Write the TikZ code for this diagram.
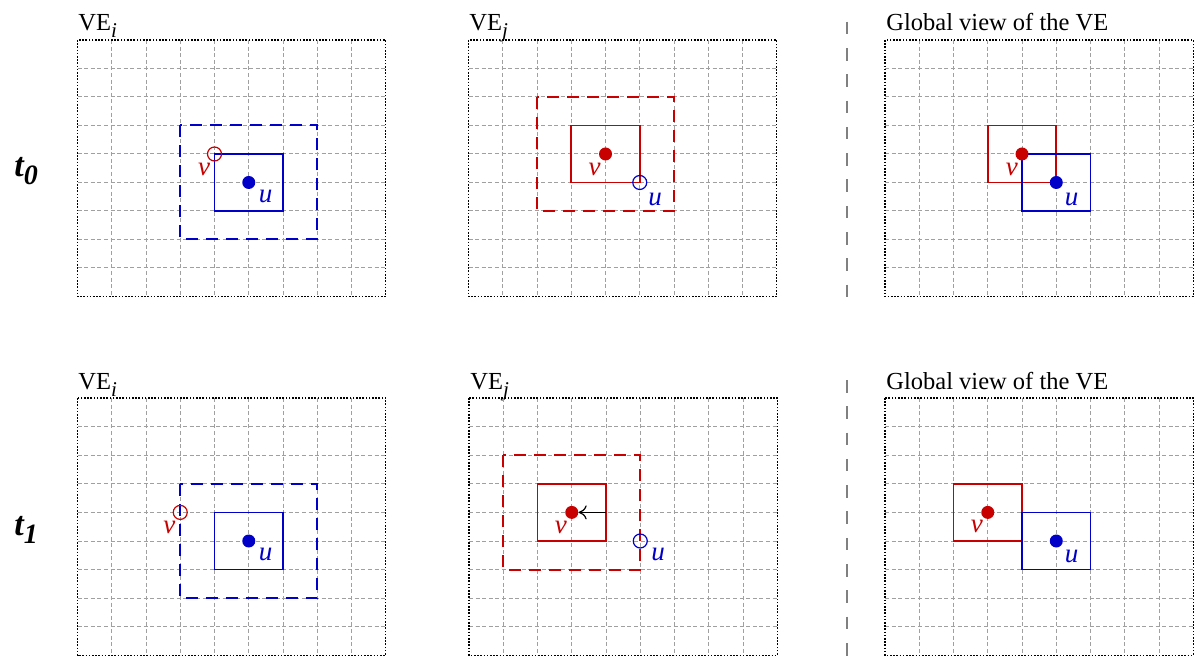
\documentclass[tikz,border=0pt]{standalone}
\usepackage{fontspec}
\setmainfont{Liberation Serif}
\usetikzlibrary{arrows.meta}
\definecolor{ublue}{RGB}{0,0,200}
\definecolor{vred}{RGB}{200,0,0}
\definecolor{gridgray}{RGB}{160,160,160}
\definecolor{sepgray}{RGB}{128,128,128}
\newcommand{\vegrid}{%
  \foreach \k in {1,...,8} {\draw[gridline] (\k,0) -- (\k,9); \draw[gridline] (0,\k) -- (9,\k);}
  \draw[vframe] (0,0) rectangle (9,9);}
\newcommand{\vesub}[1]{VE\raisebox{-0.25em}{\fontsize{10.5}{10.5}\selectfont\itshape #1}}
\newcommand{\tlab}[1]{{\fontsize{17}{17}\selectfont\bfseries\itshape t}\raisebox{-4pt}{\fontsize{14}{14}\selectfont\bfseries\itshape #1}}
\begin{document}
\begin{tikzpicture}[x=0.5pt,y=-0.5pt,
  gridline/.style={gridgray, line width=0.5pt, dash pattern=on 2pt off 1.3pt},
  vframe/.style={black, line width=0.6pt, dash pattern=on 0.8pt off 0.8pt},
  zonedash/.style={line width=1pt, dash pattern=on 6pt off 4pt},
  zone/.style={line width=0.8pt},
  fulldot/.style={circle, inner sep=0pt, minimum size=6.5pt, fill},
  ring/.style={circle, inner sep=0pt, minimum size=7pt, draw, line width=0.6pt},
  lab/.style={inner sep=0pt, font=\fontsize{13.5}{13.5}\selectfont\itshape},
  title/.style={anchor=base west, inner sep=0pt, font=\fontsize{12.25}{12.25}\selectfont},
  tl/.style={anchor=base west, inner sep=0pt},
  sepline/.style={sepgray, line width=1pt, dash pattern=on 6.3pt off 6.85pt}]
\useasboundingbox (0,0) rectangle (1197,656);

% row labels
\node[tl] (t0) at (14,177) {\tlab{0}};
\node[tl] (t1) at (14,535) {\tlab{1}};

% titles
\node[title] (ti1) at (78,31) {\vesub{i}};
\node[title] (ti2) at (469,31) {\vesub{j}};
\node[title] (ti3) at (886,31) {Global view of the VE};
\node[title] (ti4) at (78,390) {\vesub{i}};
\node[title] (ti5) at (470,390) {\vesub{j}};
\node[title] (ti6) at (886,390) {Global view of the VE};

% separator
\draw[sepline] (846.7,21.7) -- (846.7,298);
\draw[sepline] (846.7,380) -- (846.7,656);

% Panel 1
\begin{scope}[shift={(77.5,40)},x=17.125pt,y=-14.25pt]
  \vegrid
  \draw[ublue, zonedash] (3,3) rectangle (7,7);
  \draw[ublue, zone] (4,4) rectangle (6,6);
  \node[fulldot, ublue] (p1u) at (5,5) {};
  \node[ring, vred] (p1v) at (4,4) {};
  \node[lab, vred] (p1vl) at (3.7,4.53) {v};
  \node[lab, ublue] (p1ul) at (5.49,5.5) {u};
\end{scope}

% Panel 2
\begin{scope}[shift={(468.5,40)},x=17.125pt,y=-14.25pt]
  \vegrid
  \draw[vred, zonedash] (2,2) rectangle (6,6);
  \draw[vred, zone] (3,3) rectangle (5,5);
  \node[fulldot, vred] (p2v) at (4,4) {};
  \node[ring, ublue] (p2u) at (5,5) {};
  \node[lab, vred] (p2vl) at (3.68,4.55) {v};
  \node[lab, ublue] (p2ul) at (5.45,5.58) {u};
\end{scope}

% Panel 3
\begin{scope}[shift={(885,40)},x=17.125pt,y=-14.25pt]
  \vegrid
  \draw[vred, zone] (3,3) rectangle (5,5);
  \draw[ublue, zone] (4,4) rectangle (6,6);
  \node[fulldot, vred] (p3v) at (4,4) {};
  \node[fulldot, ublue] (p3u) at (5,5) {};
  \node[lab, vred] (p3vl) at (3.7,4.55) {v};
  \node[lab, ublue] (p3ul) at (5.45,5.6) {u};
\end{scope}

% Panel 4
\begin{scope}[shift={(77.5,398)},x=17.125pt,y=-14.3pt]
  \vegrid
  \draw[ublue, zonedash] (3,3) rectangle (7,7);
  \draw[ublue, zone] (4,4) rectangle (6,6);
  \node[fulldot, ublue] (p4u) at (5,5) {};
  \node[ring, vred] (p4v) at (3,4) {};
  \node[lab, vred] (p4vl) at (2.68,4.53) {v};
  \node[lab, ublue] (p4ul) at (5.49,5.48) {u};
\end{scope}

% Panel 5
\begin{scope}[shift={(469,398)},x=17.125pt,y=-14.3pt]
  \vegrid
  \draw[vred, zonedash] (1,2) rectangle (5,6);
  \draw[vred, zone] (2,3) rectangle (4,5);
  \node[fulldot, vred] (p5v) at (3,4) {};
  \node[ring, ublue] (p5u) at (5,5) {};
  \coordinate (p5a) at (4,4);
  \draw[-{To[length=4pt,width=7pt]}, line width=0.6pt] (p5a) -- (p5v);
  \node[lab, vred] (p5vl) at (2.68,4.53) {v};
  \node[lab, ublue] (p5ul) at (5.52,5.48) {u};
\end{scope}

% Panel 6
\begin{scope}[shift={(885,398)},x=17.125pt,y=-14.3pt]
  \vegrid
  \draw[vred, zone] (2,3) rectangle (4,5);
  \draw[ublue, zone] (4,4) rectangle (6,6);
  \node[fulldot, vred] (p6v) at (3,4) {};
  \node[fulldot, ublue] (p6u) at (5,5) {};
  \node[lab, vred] (p6vl) at (2.68,4.5) {v};
  \node[lab, ublue] (p6ul) at (5.45,5.55) {u};
\end{scope}
\end{tikzpicture}
\end{document}
